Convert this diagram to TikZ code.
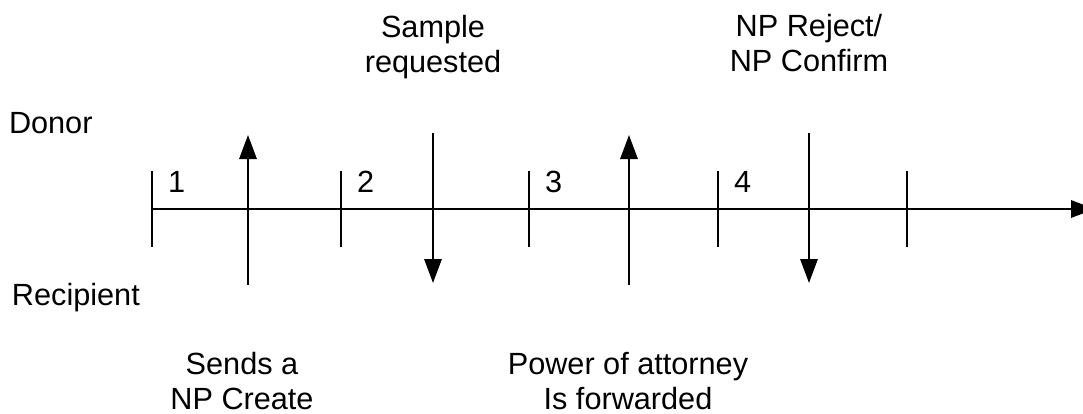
\documentclass[tikz,border=0pt]{standalone}
\usepackage{fontspec}
\setmainfont{Liberation Sans}
\usetikzlibrary{arrows.meta}
\begin{document}
\begin{tikzpicture}[x=0.75pt,y=-0.75pt,line width=1.5pt,>={Triangle[length=18pt,width=13pt]},
	lbl/.style={inner sep=0pt,font=\fontsize{23}{26.25}\selectfont},
	msg/.style={lbl,align=center,anchor=base}]
	\useasboundingbox (0,0) rectangle (1083,414);
	% time line
	\coordinate (start) at (152,209);
	\coordinate (stop) at (1095,209);
	\draw[->] (start)--(stop);
	\foreach \x [count=\i] in {152,341,529,718,907}
	\draw (\x,171) coordinate (tick\i-top)--(\x,247) coordinate (tick\i-bot);
	\foreach \x [count=\i] in {152,341,529,718}
	\node[lbl,anchor=base west] (num\i) at (\x+15,192) {\i};
	% sides
	\node[lbl,anchor=base west] (donor) at (8,133) {Donor};
	\node[lbl,anchor=base west] (recipient) at (11,305) {Recipient};
	% messages
	\coordinate (create-from) at (248,285);
	\coordinate (create-to) at (248,135);
	\draw[->] (create-from)--(create-to);
	\coordinate (sample-from) at (433,133);
	\coordinate (sample-to) at (433,283);
	\draw[->] (sample-from)--(sample-to);
	\coordinate (poa-from) at (629,285);
	\coordinate (poa-to) at (629,135);
	\draw[->] (poa-from)--(poa-to);
	\coordinate (reply-from) at (809,133);
	\coordinate (reply-to) at (809,283);
	\draw[->] (reply-from)--(reply-to);
	\node[msg] (sample) at (433,72) {Sample\\requested};
	\node[msg] (reply) at (809,71) {NP Reject/\\NP Confirm};
	\node[msg] (create) at (242,409) {Sends a\\NP Create};
	\node[msg] (poa) at (628,409) {Power of attorney\\Is forwarded};
\end{tikzpicture}
\end{document}
